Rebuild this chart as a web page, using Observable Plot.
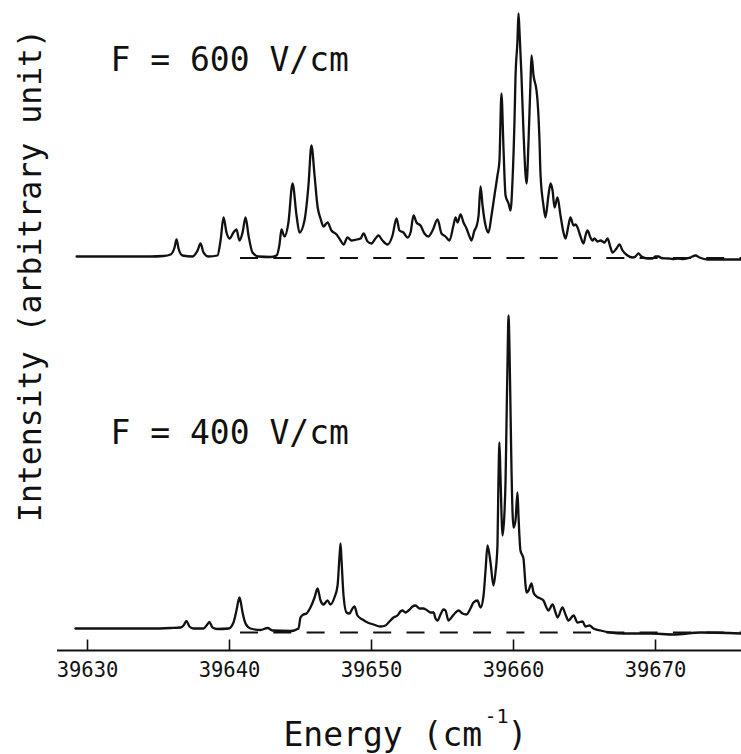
<!DOCTYPE html>
<html>
<head>
<meta charset="utf-8">
<script src="https://cdn.jsdelivr.net/npm/d3@7"></script>
<script src="https://cdn.jsdelivr.net/npm/@observablehq/plot@0.6"></script>
<style>
  html, body { margin: 0; padding: 0; background: #fff; }
  #chart svg { display: block; }
</style>
</head>
<body>
<div id="chart"></div>
<script>
// ---- data ----
const fieldLabels = ["F = 600 V/cm", "F = 400 V/cm"];
const tickValues = [39630, 39640, 39650, 39660, 39670];
const xTitle = "Energy (cm";
const xTitleSup = "-1";
const yTitle = "Intensity (arbitrary unit)";

// F = 600 V/cm spectrum (energy in cm^-1, intensity in arbitrary units)
const topEnergy = [
  39629.23, 39634.44, 39635.35, 39635.85, 39636.13, 39636.27, 39636.41, 39636.69, 39637.39, 39637.75,
  39637.96, 39638.17, 39638.52, 39639.15, 39639.37, 39639.58, 39639.79, 39640.00, 39640.28, 39640.49,
  39640.70, 39640.92, 39641.13, 39641.34, 39641.62, 39642.04, 39642.89, 39643.31, 39643.52, 39643.66,
  39643.87, 39644.15, 39644.44, 39644.72, 39644.93, 39645.28, 39645.56, 39645.77, 39645.99, 39646.20,
  39646.41, 39646.62, 39646.90, 39647.18, 39647.54, 39647.82, 39648.03, 39648.31, 39648.59, 39648.94,
  39649.23, 39649.44, 39649.72, 39650.00, 39650.28, 39650.49, 39650.77, 39651.13, 39651.48, 39651.76,
  39651.97, 39652.25, 39652.54, 39652.75, 39652.96, 39653.17, 39653.45, 39653.73, 39654.01, 39654.30,
  39654.65, 39654.93, 39655.21, 39655.49, 39655.77, 39655.92, 39656.06, 39656.27, 39656.48, 39656.69,
  39656.90, 39657.04, 39657.25, 39657.39, 39657.54, 39657.68, 39657.82, 39658.03, 39658.24, 39658.45,
  39658.66, 39658.87, 39659.01, 39659.15, 39659.30, 39659.44, 39659.65, 39659.79, 39659.93, 39660.07,
  39660.14, 39660.28, 39660.35, 39660.42, 39660.56, 39660.70, 39660.92, 39661.06, 39661.20, 39661.27,
  39661.41, 39661.62, 39661.69, 39661.83, 39661.90, 39662.11, 39662.25, 39662.46, 39662.61, 39662.75,
  39662.89, 39663.10, 39663.31, 39663.52, 39663.66, 39663.87, 39664.01, 39664.23, 39664.37, 39664.51,
  39664.72, 39664.93, 39665.07, 39665.21, 39665.42, 39665.56, 39665.70, 39665.92, 39666.13, 39666.41,
  39666.62, 39666.83, 39666.97, 39667.25, 39667.46, 39667.68, 39668.03, 39668.38, 39668.59, 39668.80,
  39669.01, 39669.44, 39669.79, 39670.00, 39670.21, 39670.42, 39670.92, 39671.20, 39671.55, 39671.97,
  39672.46, 39672.82, 39673.10, 39673.66, 39674.58, 39676.06
];
const topIntensity = [
  0.15, 0.15, 0.2, 0.35, 1.05, 1.85, 0.95, 0.25, 0.15, 0.75,
  1.45, 0.55, 0.15, 0.25, 1.75, 4.05, 2.55, 1.95, 2.55, 2.85,
  1.75, 2.55, 4.05, 2.25, 0.55, 0.15, 0.1, 0.25, 1.35, 2.85,
  2.15, 3.55, 7.45, 4.25, 2.55, 3.75, 7.25, 11.25, 8.25, 5.15,
  3.95, 3.15, 3.55, 2.75, 2.35, 1.75, 1.35, 2.05, 1.75, 1.85,
  1.95, 2.45, 1.65, 1.45, 1.95, 2.25, 1.75, 1.35, 2.25, 3.95,
  2.75, 2.55, 2.05, 2.55, 4.25, 3.55, 3.25, 2.45, 2.15, 2.75,
  3.85, 2.45, 2.15, 1.75, 3.25, 4.05, 3.55, 4.35, 3.55, 2.95,
  2.15, 1.75, 2.75, 3.15, 4.25, 7.15, 5.25, 3.25, 2.55, 4.25,
  6.25, 8.25, 9.75, 16.45, 10.75, 6.25, 5.45, 4.75, 7.75, 13.75,
  18.05, 21.75, 24.45, 22.75, 18.25, 12.75, 7.45, 11.75, 17.75, 20.25,
  18.25, 16.75, 15.75, 11.75, 8.45, 5.25, 4.05, 6.25, 7.45, 6.75,
  5.05, 6.05, 4.25, 2.55, 1.95, 3.25, 4.05, 3.25, 3.35, 3.05,
  2.15, 1.45, 2.25, 2.75, 2.05, 1.75, 1.95, 1.65, 1.75, 1.55,
  1.95, 1.05, 0.55, 0.95, 1.35, 0.75, 0.25, 0.05, 0.15, 0.45,
  0.15, -0.05, -0.05, 0.15, 0.15, 0, -0.05, -0.1, -0.05, -0.1,
  0.05, 0.25, 0.05, -0.15, -0.15, -0.15
];

// F = 400 V/cm spectrum
const bottomEnergy = [
  39629.15, 39634.44, 39635.85, 39636.55, 39636.76, 39636.97, 39637.18, 39637.46, 39638.17, 39638.38,
  39638.59, 39638.80, 39639.15, 39639.93, 39640.28, 39640.49, 39640.63, 39640.70, 39640.77, 39640.92,
  39641.13, 39641.48, 39642.18, 39642.68, 39643.03, 39644.30, 39644.86, 39645.00, 39645.21, 39645.42,
  39645.70, 39645.99, 39646.20, 39646.41, 39646.62, 39646.90, 39647.11, 39647.39, 39647.61, 39647.75,
  39647.82, 39647.89, 39648.03, 39648.24, 39648.45, 39648.66, 39648.80, 39649.01, 39649.37, 39649.72,
  39650.14, 39650.63, 39650.99, 39651.20, 39651.55, 39651.83, 39652.04, 39652.18, 39652.39, 39652.61,
  39652.89, 39653.10, 39653.38, 39653.66, 39653.94, 39654.15, 39654.37, 39654.51, 39654.65, 39654.86,
  39655.07, 39655.21, 39655.42, 39655.63, 39655.92, 39656.13, 39656.41, 39656.69, 39656.97, 39657.18,
  39657.46, 39657.68, 39657.89, 39658.03, 39658.17, 39658.38, 39658.59, 39658.73, 39658.87, 39658.94,
  39659.01, 39659.08, 39659.23, 39659.37, 39659.44, 39659.51, 39659.58, 39659.65, 39659.72, 39659.79,
  39659.86, 39660.00, 39660.14, 39660.28, 39660.35, 39660.49, 39660.70, 39660.85, 39660.92, 39661.06,
  39661.27, 39661.41, 39661.62, 39661.90, 39662.11, 39662.32, 39662.46, 39662.75, 39662.96, 39663.10,
  39663.45, 39663.66, 39663.87, 39664.23, 39664.51, 39664.86, 39665.07, 39665.35, 39665.63, 39666.13,
  39666.83, 39667.75, 39669.65, 39671.27, 39673.17, 39676.06
];
const bottomIntensity = [
  0.4, 0.4, 0.45, 0.5, 0.7, 1.15, 0.6, 0.4, 0.4, 0.7,
  1.05, 0.5, 0.35, 0.4, 1.0, 2.2, 3.2, 3.5, 3.2, 2.0,
  0.9, 0.4, 0.25, 0.45, 0.2, 0.15, 0.4, 1.5, 1.8, 1.9,
  2.5, 3.5, 4.4, 3.2, 2.8, 3.2, 2.8, 3.5, 4.7, 7.7,
  8.9, 7.2, 3.7, 2.0, 1.9, 2.4, 2.6, 1.7, 1.3, 1.0,
  0.8, 0.6, 0.7, 1.0, 1.5, 1.7, 2.1, 2.2, 2.0, 2.2,
  2.6, 2.7, 2.4, 2.4, 2.2, 2.0, 2.0, 1.4, 1.2, 1.8,
  2.3, 2.2, 1.2, 1.5, 2.0, 2.2, 1.9, 1.8, 2.4, 3.0,
  3.2, 2.5, 3.7, 6.2, 8.7, 7.0, 4.7, 6.0, 8.7, 15.2,
  19.0, 15.7, 9.7, 12.2, 15.2, 21.2, 27.2, 31.7, 28.2, 22.2,
  16.2, 10.5, 11.2, 14.0, 11.7, 8.2, 7.4, 4.7, 4.0, 4.2,
  4.9, 4.0, 3.6, 3.4, 3.2, 2.5, 2.2, 2.8, 2.0, 1.5,
  2.5, 1.8, 1.2, 1.7, 1.0, 1.1, 0.6, 0.7, 0.4, 0.2,
  0, -0.1, -0.1, -0.2, 0, -0.1
];

// ---- layout ----
const topOffset = 37.45;                 // vertical stacking offset of the upper spectrum
const xDomain = [39627.887, 39676.056];
const yDomain = [-1.8, 63.2];
const dashStart = 39640.775;
const font = "'DejaVu Sans Mono', monospace";
const ink = "#111";

const topData = topEnergy.map((e, i) => ({e, v: topIntensity[i] + topOffset}));
const bottomData = bottomEnergy.map((e, i) => ({e, v: bottomIntensity[i]}));

const chart = Plot.plot({
  width: 741,
  height: 754,
  marginLeft: 57,
  marginRight: 0,
  marginTop: 0,
  marginBottom: 104,
  style: {fontFamily: font, background: "#fff", color: ink, overflow: "visible"},
  x: {domain: xDomain},
  y: {domain: yDomain, axis: null},
  marks: [
    // zero-intensity reference lines (dashed)
    Plot.ruleY([0, topOffset], {x1: dashStart, x2: xDomain[1], stroke: ink, strokeWidth: 2, strokeDasharray: "18,15.3"}),
    // spectra
    Plot.line(bottomData, {x: "e", y: "v", stroke: ink, strokeWidth: 2.3, curve: "monotone-x"}),
    Plot.line(topData, {x: "e", y: "v", stroke: ink, strokeWidth: 2.3, curve: "monotone-x"}),
    // x axis line and upward ticks
    Plot.ruleY([yDomain[0]], {stroke: ink, strokeWidth: 2}),
    Plot.ruleX(tickValues, {y1: yDomain[0], y2: yDomain[0] + 1.05, stroke: ink, strokeWidth: 1.6}),
    Plot.axisX({ticks: tickValues, tickSize: 0, tickPadding: 12, fontSize: 20.5, fontFamily: font, fill: ink, tickFormat: d => String(d), label: null}),
    // panel labels
    Plot.text([fieldLabels[0]], {text: d => d, frameAnchor: "top-left", dx: 53, dy: 70, textAnchor: "start", lineAnchor: "bottom", fontSize: 33, fontFamily: font, fill: ink}),
    Plot.text([fieldLabels[1]], {text: d => d, frameAnchor: "top-left", dx: 53, dy: 443, textAnchor: "start", lineAnchor: "bottom", fontSize: 33, fontFamily: font, fill: ink}),
    // x title with superscript
    Plot.text([xTitle], {text: d => d, frameAnchor: "bottom-left", dx: 226, dy: 95, textAnchor: "start", lineAnchor: "bottom", fontSize: 33, fontFamily: font, fill: ink}),
    Plot.text([xTitleSup], {text: d => d, frameAnchor: "bottom-left", dx: 427, dy: 72, textAnchor: "start", lineAnchor: "bottom", fontSize: 20, fontFamily: font, fill: ink}),
    Plot.text([")"], {text: d => d, frameAnchor: "bottom-left", dx: 450, dy: 95, textAnchor: "start", lineAnchor: "bottom", fontSize: 33, fontFamily: font, fill: ink}),
    // y title
    Plot.text([yTitle], {text: d => d, frameAnchor: "left", rotate: -90, dx: -17, dy: -50, textAnchor: "middle", lineAnchor: "bottom", fontSize: 31.5, fontFamily: font, fill: ink})
  ]
});

document.getElementById("chart").appendChild(chart);
</script>
</body>
</html>
